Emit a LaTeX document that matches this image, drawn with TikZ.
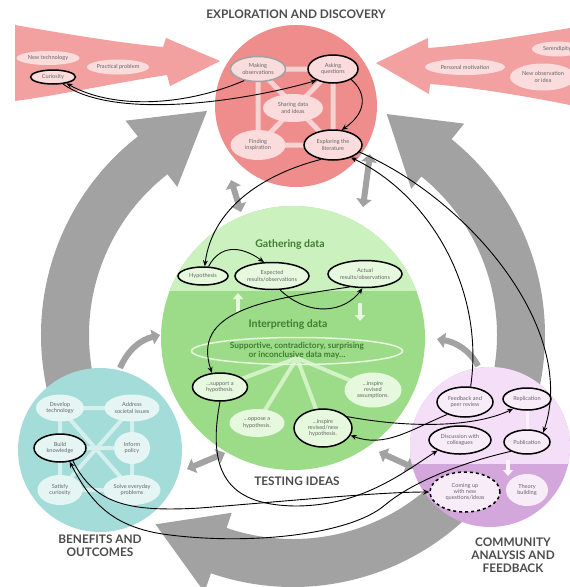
\documentclass[tikz,border=0pt]{standalone}
\usepackage{fontspec}
\setmainfont{Lato}
\usetikzlibrary{arrows.meta,shapes.geometric}
\definecolor{redc}{HTML}{EF8C8C}
\definecolor{pinkarr}{HTML}{F3A0A0}
\definecolor{redpale}{HTML}{FADCDC}
\definecolor{redline}{HTML}{F8D2D2}
\definecolor{greenlt}{HTML}{CBF1BE}
\definecolor{greendk}{HTML}{9CDC88}
\definecolor{greenpale}{HTML}{E6F8DE}
\definecolor{greenline}{HTML}{D2F2C6}
\definecolor{greentxt}{HTML}{3E7D30}
\definecolor{tealc}{HTML}{A4DCDA}
\definecolor{tealpale}{HTML}{E5F5F4}
\definecolor{tealline}{HTML}{D3EFEE}
\definecolor{purlt}{HTML}{F5DEF7}
\definecolor{purdk}{HTML}{D4A7DC}
\definecolor{purpale}{HTML}{F8ECF9}
\definecolor{purline}{HTML}{FBF3FB}
\definecolor{greyarr}{HTML}{A2A2A2}
\definecolor{txt}{HTML}{666666}
\definecolor{headc}{HTML}{4B4B4B}
\begin{document}
\begin{tikzpicture}[x=1pt,y=-1pt,
 lbl/.style={ellipse,inner sep=0pt,align=center,font=\fontsize{5.6}{6.3}\selectfont,text=txt},
 rn/.style={lbl,fill=redpale},
 gn/.style={lbl,fill=greenpale},
 tn/.style={lbl,fill=tealpale},
 pn/.style={lbl,fill=purpale},
 ringb/.style={draw=black,line width=1.5pt},
 wh/.style 2 args={minimum width=#1,minimum height=#2},
 conn/.style={draw=black,line width=0.9pt,-{Stealth[length=6pt,width=5pt]}},
 title/.style={font=\fontsize{11.8}{12.8}\selectfont\bfseries,text=headc,align=center},
 gtitle/.style={font=\fontsize{10.5}{12}\selectfont\bfseries,text=greentxt},
 gar/.style={draw=greyarr,line width=6pt,-{Triangle[length=8pt,width=15pt]}},
 garr/.style={draw=greyarr,line width=6pt,{Triangle[length=8pt,width=15pt]}-{Triangle[length=8pt,width=15pt]}},
 pale/.style={line width=4pt,-{Triangle[length=6pt,width=10pt]}}
]
\useasboundingbox (0,0) rectangle (570,587);
\fill[white] (0,0) rectangle (570,587);

% big grey ring arrows
\begin{scope}[shift={(293,335)}]
 \fill[greyarr] (163:204) arc[start angle=163,end angle=232,radius=204] -- (232:188) -- (249:240) -- (232:272) -- (232:252) arc[start angle=232,end angle=163,radius=252] -- cycle;
 \fill[greyarr] (13:204) arc[start angle=13,end angle=-51,radius=204] -- (-51:188) -- (-67:240) -- (-51:272) -- (-51:252) arc[start angle=-51,end angle=13,radius=252] -- cycle;
 \fill[greyarr] (45:204) arc[start angle=45,end angle=109,radius=204] -- (109:188) -- (126:234) -- (109:272) -- (109:252) arc[start angle=109,end angle=45,radius=252] -- cycle;
\end{scope}

% small grey arrows between circles
\draw[garr] (231,180) -- (241,212);
\draw[garr] (370,154) -- (363,207);
\draw[gar] (120,368) .. controls (128,350) and (140,340) .. (160,335);
\draw[garr] (225,453) -- (187,469);
\draw[gar] (478,366) .. controls (470,350) and (455,342) .. (437,339);
\draw[garr] (379,452) -- (414,468);

% pink side arrows
\fill[pinkarr] (15,25) .. controls (60,33) and (120,43) .. (163,47) -- (166,38) -- (220,61) -- (170,86) -- (167,75) .. controls (120,82) and (60,95) .. (15,101) -- cycle;
\fill[pinkarr] (570,28) .. controls (520,36) and (470,45) .. (428,48) -- (428,38) -- (376,63) -- (429,94) -- (430,84) .. controls (470,87) and (520,95) .. (570,105) -- cycle;

% circles
\fill[redc] (296,106) circle[radius=81];
\fill[greendk] (293,338) circle[radius=132];
\begin{scope}
 \clip (100,150) rectangle (500,290);
 \fill[greenlt] (293,338) circle[radius=132];
\end{scope}
\fill[tealc] (100,450) circle[radius=82];
\fill[purdk] (490,447) circle[radius=80];
\begin{scope}
 \clip (400,300) rectangle (580,463);
 \fill[purlt] (490,447) circle[radius=80];
\end{scope}

% pale structure lines
\draw[redline,line width=5pt] (258,69) rectangle (333,145) (258,69) -- (333,145) (333,69) -- (258,145);
\draw[greenline,line width=4pt] (297,358) -- (220,387) (297,358) -- (257,423) (297,358) -- (323,428) (297,358) -- (373,390);
\draw[tealline,line width=4pt] (60,408) rectangle (132,490) (60,448) -- (132,448) (60,408) -- (132,490) (132,408) -- (60,490);
\draw[purline,line width=3pt] (527,405) -- (527,435);
\draw[greenpale,pale] (238,312) -- (238,293);
\draw[greenpale,pale] (360,303) -- (360,321);
\draw[purline,pale] (508,460) -- (508,476);

% titles
\node[title] (t1) at (296,14) {EXPLORATION AND DISCOVERY};
\node[title] (t2) at (297,481) {TESTING IDEAS};
\node[title] (t3) at (100,546) {BENEFITS AND\\OUTCOMES};
\node[title] (t4) at (513,555) {COMMUNITY\\ANALYSIS AND\\FEEDBACK};
\node[gtitle] (t5) at (290,245) {Gathering data};
\node[gtitle] (t6) at (288,325) {Interpreting data};

% side arrow nodes
\node[rn,wh={63}{14}] (nt) at (48,58) {New technology};
\node[rn,wh={62}{15}] (pp) at (118,67) {Practical problem};
\node[rn,ringb,wh={45}{14}] (cur) at (53,77) {Curiosity};
\node[rn,wh={80}{16}] (pm) at (465,67) {Personal motivation};
\node[rn,wh={50}{15}] (ser) at (557,49) {Serendipity};
\node[rn,wh={66}{27}] (nob) at (543,77) {New observation\\or idea};

% red circle nodes
\node[rn,draw=greyarr,line width=1.5pt,wh={55}{25}] (mo) at (258,69) {Making\\observations};
\node[rn,ringb,wh={50}{28}] (aq) at (333,69) {Asking\\questions};
\node[rn,wh={60}{28}] (sd) at (293,108) {Sharing data\\and ideas};
\node[rn,wh={55}{30}] (fi) at (258,145) {Finding\\inspiration};
\node[rn,ringb,wh={58}{30}] (lit) at (333,145) {Exploring the\\literature};

% green nodes
\node[gn,ringb,wh={50}{18}] (hyp) at (203,276) {Hypothesis};
\node[gn,ringb,wh={74}{27}] (exp) at (272,276) {Expected\\results/observations};
\node[gn,ringb,wh={74}{27}] (act) at (365,274) {Actual\\results/observations};
\node[ellipse,draw=greenpale,line width=1.5pt,wh={211}{27},inner sep=0pt,align=center,font=\fontsize{8.3}{9.2}\selectfont\bfseries,text=greentxt] (sdm) at (297,351) {Supportive, contradictory, surprising\\or inconclusive data may…};
\node[gn,ringb,wh={55}{28}] (sup) at (220,387) {...support a\\hypothesis.};
\node[gn,wh={55}{28}] (opp) at (257,423) {...oppose a\\hypothesis.};
\node[gn,ringb,wh={58}{38}] (inew) at (323,428) {...inspire\\revised/new\\hypothesis.};
\node[gn,wh={57}{35}] (iass) at (373,390) {...inspire\\revised\\assumptions.};

% teal nodes
\node[tn,wh={48}{27}] (dt) at (60,408) {Develop\\technology};
\node[tn,wh={55}{27}] (asi) at (132,408) {Address\\societal issues};
\node[tn,ringb,wh={52}{28}] (bk) at (60,448) {Build\\knowledge};
\node[tn,wh={36}{32}] (ip) at (132,448) {Inform\\policy};
\node[tn,wh={45}{30}] (sc) at (60,490) {Satisfy\\curiosity};
\node[tn,wh={57}{30}] (sep) at (132,490) {Solve everyday\\problems};

% purple nodes
\node[pn,ringb,wh={56}{30}] (fb) at (465,402) {Feedback and\\peer review};
\node[pn,ringb,wh={48}{22}] (rep) at (527,399) {Replication};
\node[pn,ringb,wh={62}{28}] (disc) at (460,440) {Discussion with\\colleagues};
\node[pn,ringb,wh={46}{24}] (pub) at (527,442) {Publication};
\node[pn,draw=black,line width=1.5pt,dashed,wh={70}{40}] (cnq) at (465,492) {Coming up\\with new\\questions/ideas};
\node[pn,wh={42}{32}] (tb) at (527,490) {Theory\\building};

% black connectors
\draw[conn] (mo.220) .. controls (180,108) and (110,108) .. (cur.-25);
\draw[conn] (cur.-35) .. controls (110,118) and (230,105) .. (aq.215);
\draw[conn] (aq.-30) .. controls (366,92) and (368,112) .. (lit.60);
\draw[conn] (lit.230) .. controls (260,175) and (212,210) .. (hyp.80);
\draw[conn] (hyp.60) .. controls (220,245) and (240,245) .. (exp.120);
\draw[conn] (exp.-60) .. controls (310,318) and (345,312) .. (act.-100);
\draw[conn] (act.-140) .. controls (260,300) and (192,312) .. (sup.120);
\draw[conn] (sup.-90) .. controls (205,480) and (235,505) .. (295,506) .. controls (360,506) and (400,475) .. (disc.205);
\draw[conn] (pub.-150) .. controls (465,462) and (415,480) .. (385,505) .. controls (350,535) and (250,545) .. (170,535) .. controls (110,528) and (90,500) .. (bk.-55);
\draw[conn] (bk.-45) .. controls (95,505) and (130,512) .. (200,508) .. controls (300,500) and (380,492) .. (cnq.180);
\draw[conn] (fb.70) .. controls (485,290) and (430,195) .. (lit.-35);
\draw[conn] (lit.-15) .. controls (470,200) and (578,330) .. (pub.30);
\draw[conn] (fb.215) .. controls (410,430) and (385,448) .. (inew.-15);
\draw[conn] (inew.25) .. controls (420,430) and (480,425) .. (rep.215);
\end{tikzpicture}
\end{document}
